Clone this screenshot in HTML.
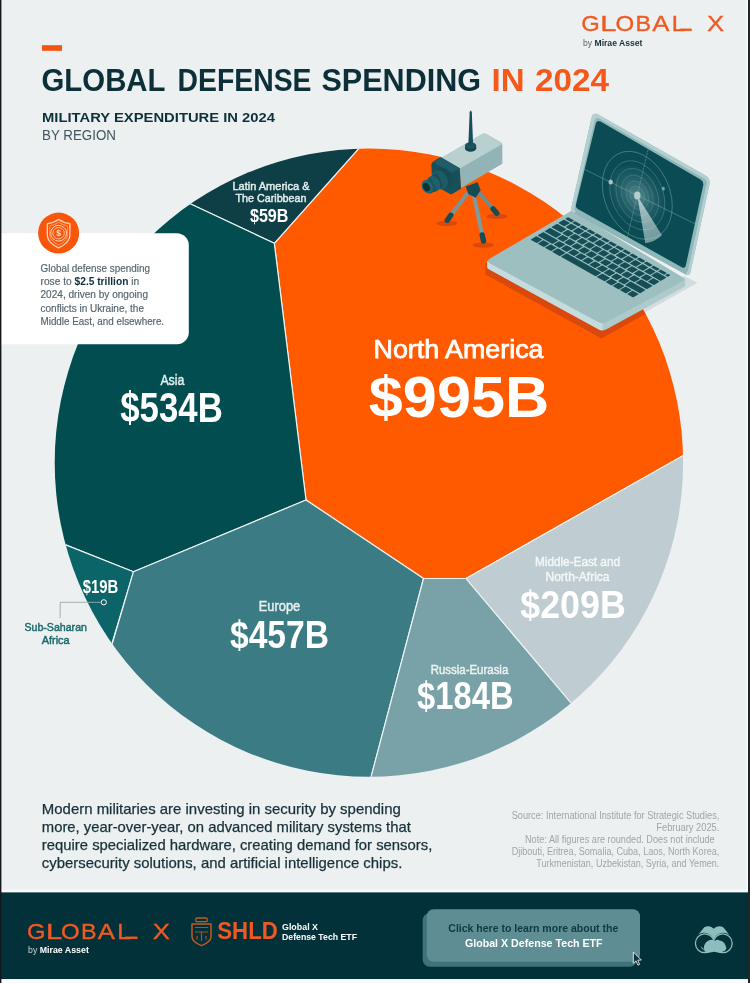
<!DOCTYPE html>
<html lang="en">
<head>
<meta charset="utf-8">
<title>Global Defense Spending in 2024</title>
<style>
html,body{margin:0;padding:0;background:#ecf0f1;}
body{width:750px;height:983px;overflow:hidden;font-family:"Liberation Sans",sans-serif;}
svg{display:block;position:absolute;left:0;top:0;}
text{font-family:"Liberation Sans",sans-serif;}
.b{font-weight:bold;}
.w{fill:#fff;}
</style>
</head>
<body>
<svg width="750" height="983" viewBox="0 0 750 983">
<defs>
<clipPath id="scr"><path d="M595.800,123.500 Q596.800,119.500 600.500,121.600 L700.500,179.500 Q704,181.500 703.200,185.500 L685.800,265.500 Q685,269 681.800,267.300 L577.800,209 Q575.200,207.500 576,204.500 Z"/></clipPath>
<clipPath id="pie"><circle cx="368.9" cy="462.6" r="314.2"/></clipPath>
</defs>
<!-- BACKGROUND -->
<rect x="0" y="0" width="750" height="983" fill="#ecf0f1"/>
<!-- HEADER -->
<g id="header">
<rect x="42" y="45.2" width="20" height="5.6" fill="#f5540f"/>
<g class="b" font-size="31" fill="#0c2f38" lengthAdjust="spacingAndGlyphs">
<text x="41.5" y="90.5" textLength="124" lengthAdjust="spacingAndGlyphs">GLOBAL</text>
<text x="177.5" y="90.5" textLength="134" lengthAdjust="spacingAndGlyphs">DEFENSE</text>
<text x="321.5" y="90.5" textLength="159.5" lengthAdjust="spacingAndGlyphs">SPENDING</text>
<text x="491.5" y="90.5" textLength="33" lengthAdjust="spacingAndGlyphs" fill="#f4581b">IN</text>
<text x="535" y="90.5" textLength="74" lengthAdjust="spacingAndGlyphs" fill="#f4581b">2024</text>
</g>
<text class="b" x="42" y="121.5" font-size="13.5" fill="#0d313a" textLength="233" lengthAdjust="spacingAndGlyphs">MILITARY EXPENDITURE IN 2024</text>
<text x="42" y="140" font-size="14" fill="#3f565d" textLength="74" lengthAdjust="spacingAndGlyphs">BY REGION</text>
</g>
<!-- LOGO TOP -->
<g id="logo-top" fill="#f05a22">
<g fill="#f05a22" stroke="#f05a22" stroke-width="0.35">
<text transform="translate(581.31,30.90) scale(1.061,1)" font-size="22.38">G</text>
<text transform="translate(600.32,30.90) scale(1.297,1)" font-size="22.38">L</text>
<text transform="translate(615.46,30.90) scale(1.073,1)" font-size="22.38">O</text>
<text transform="translate(635.39,30.90) scale(1.041,1)" font-size="22.38">B</text>
<text transform="translate(652.15,30.90) scale(1.152,1)" font-size="22.38">A</text>
<text transform="translate(671.63,30.90) scale(1.074,1)" font-size="22.38">L</text>
<text transform="translate(707.12,30.90) scale(1.146,1)" font-size="22.38">X</text>
<rect x="680.00" y="28.85" width="11.7" height="2.05"/>
</g>
<text x="583" y="45.5" font-size="8.6" fill="#56666d">by <tspan class="b" fill="#16323c">Mirae Asset</tspan></text>
</g>
<!-- PIE -->
<g id="pie-g" clip-path="url(#pie)" stroke="#eef3f3" stroke-width="1.15" stroke-linejoin="round">
<polygon fill="#ff5a00" points="366.3,140 274.3,243.3 306,500 423.5,578.5 466,578.5 700,446 700,140"/>
<polygon fill="#0e3f47" points="366.3,140 274.3,243.3 180,199 180,140"/>
<polygon fill="#014d50" points="190.7,204 274.3,243.3 306,500 133.4,571.8 65.6,544.9 40,540 40,204"/>
<polygon fill="#0b6467" points="60,542.6 133.4,571.8 110,650 50,650"/>
<polygon fill="#3b7b84" points="133.4,571.8 306,500 423.5,578.5 367.6,790 100,790 111,648"/>
<polygon fill="#79a2a8" points="423.5,578.5 466,578.5 577,710 577,790 367.6,790"/>
<polygon fill="#bfcdd2" points="466,578.5 700,446 700,720 577,710"/>
</g>
<!-- CAMERA -->
<g id="camera">
<ellipse cx="446.9" cy="223.3" rx="10.5" ry="2.6" fill="#d9480d"/>
<ellipse cx="483.2" cy="245.2" rx="10.5" ry="2.6" fill="#d9480d"/>
<ellipse cx="497" cy="216.4" rx="10.5" ry="2.6" fill="#d9480d"/>
<g stroke-linecap="round" fill="none">
<path d="M468.500,192 L449.500,217" stroke="#76969a" stroke-width="3.900"/>
<path d="M476.500,190 L494.500,210.500" stroke="#6c8d92" stroke-width="3.900"/>
<path d="M474,196 L482.700,237" stroke="#7d9ca0" stroke-width="3.900"/>
<path d="M450.800,215.300 L447.300,220.200" stroke="#164c56" stroke-width="5.400"/>
<path d="M493,208.800 L496.800,213.300" stroke="#164c56" stroke-width="5.400"/>
<path d="M482.200,235 L483.500,241" stroke="#164c56" stroke-width="5.400"/>
</g>
<g transform="translate(415,105) scale(0.133333)">
<polygon points="380,612 470,580 492,640 455,695 400,668" fill="#174c56"/>
<!-- body -->
<path d="M200,395 L505,218 Q520,210 535,218 L645,282 Q655,288 655,300 L655,440 L345,622 L335,475 Z" fill="#93b4b6"/>
<path d="M200,395 L505,218 Q520,210 535,218 L645,282 Q654,288 648,296 L340,474 Z" fill="#b9d0d0"/>
<!-- front dark block -->
<path d="M200,395 Q190,392 178,398 L135,425 Q122,434 123,450 L128,580 Q129,592 140,598 L262,668 Q272,672 282,666 L345,628 L335,475 Z" fill="#17505a"/>
<path d="M200,395 L335,475 L290,502 Q275,508 262,500 L150,436 Q140,428 150,420 Z" fill="#1f5e68"/>
<!-- lens -->
<path d="M150,470 L250,530 L250,650 L150,600 Z" fill="#17505a"/>
<ellipse cx="215" cy="545" rx="62" ry="80" transform="rotate(-28 215 545)" fill="#164b55"/>
<ellipse cx="185" cy="562" rx="58" ry="76" transform="rotate(-28 185 562)" fill="#1d5c66"/>
<path d="M105,545 L165,510 L215,610 L150,652 Z" fill="#194f59"/>
<ellipse cx="140" cy="590" rx="45" ry="60" transform="rotate(-28 140 590)" fill="#1f616b"/>
<path d="M62,580 L120,545 L165,640 L112,668 Z" fill="#1a5560"/>
<ellipse cx="92" cy="613" rx="40" ry="52" transform="rotate(-28 92 613)" fill="#21656f"/>
<ellipse cx="86" cy="616" rx="24" ry="33" transform="rotate(-28 86 616)" fill="#0c323a"/>
<!-- antenna -->
<ellipse cx="417" cy="326" rx="42" ry="25" fill="#14464f"/>
<rect x="375" y="305" width="84" height="21" fill="#14464f"/>
<ellipse cx="417" cy="305" rx="42" ry="25" fill="#1a545e"/>
<path d="M410,55 Q418,26 426,55 L436,300 Q418,312 400,300 Z" fill="#17505a"/>
</g>
</g>
<!-- LAPTOP -->
<g id="laptop">
<!-- shadows -->
<path d="M684,276 L697.500,282.800 L611,331.500 L603,329 Z" fill="#d3dbde"/>
<g clip-path="url(#pie)"><path d="M485.500,263 L485.500,274.500 L601.500,338.500 L698,284.500 L698,268 Z" fill="#d9480d"/></g>
<!-- base -->
<path d="M487.200,261 L487.200,266.800 Q487.200,268.300 489,269.300 L598.500,329.300 Q602.500,331.500 606.500,329.300 L683.500,287.300 Q685.300,286.300 685.300,284.800 L685.300,279.300 L602.500,321 Z" fill="#aecbcc"/>
<path d="M487.200,261 L487.200,266.800 Q487.200,268.300 489,269.300 L598.500,329.300 Q600.500,330.400 602.500,330.600 L602.500,321 Z" fill="#c6dbdb"/>
<path d="M490,258.500 L572,210.500 L683,277.500 Q686.300,279.300 683,281.100 L606.500,322.200 Q602.500,324.400 598.500,322.200 L490,263.500 Q486,261 490,258.500 Z" fill="#9dbfc0"/>
<g transform="matrix(103.5,58.5,-38.4,23,568,216.6)" fill="#164e57"><rect x="0.0048" y="0.0125" width="0.0593" height="0.0750" rx="0.005" ry="0.018"/><rect x="0.0738" y="0.0125" width="0.0593" height="0.0750" rx="0.005" ry="0.018"/><rect x="0.1428" y="0.0125" width="0.0593" height="0.0750" rx="0.005" ry="0.018"/><rect x="0.2117" y="0.0125" width="0.0593" height="0.0750" rx="0.005" ry="0.018"/><rect x="0.2807" y="0.0125" width="0.0593" height="0.0750" rx="0.005" ry="0.018"/><rect x="0.3497" y="0.0125" width="0.0593" height="0.0750" rx="0.005" ry="0.018"/><rect x="0.4186" y="0.0125" width="0.0593" height="0.0750" rx="0.005" ry="0.018"/><rect x="0.4876" y="0.0125" width="0.0593" height="0.0750" rx="0.005" ry="0.018"/><rect x="0.5566" y="0.0125" width="0.0593" height="0.0750" rx="0.005" ry="0.018"/><rect x="0.6255" y="0.0125" width="0.0593" height="0.0750" rx="0.005" ry="0.018"/><rect x="0.6945" y="0.0125" width="0.0593" height="0.0750" rx="0.005" ry="0.018"/><rect x="0.7634" y="0.0125" width="0.0593" height="0.0750" rx="0.005" ry="0.018"/><rect x="0.8324" y="0.0125" width="0.0593" height="0.0750" rx="0.005" ry="0.018"/><rect x="0.9014" y="0.0125" width="0.0593" height="0.0750" rx="0.005" ry="0.018"/><rect x="0.9703" y="0.0125" width="0.0248" height="0.0750" rx="0.005" ry="0.018"/><rect x="0.0048" y="0.1175" width="0.0593" height="0.1500" rx="0.005" ry="0.018"/><rect x="0.0738" y="0.1175" width="0.0593" height="0.1500" rx="0.005" ry="0.018"/><rect x="0.1428" y="0.1175" width="0.0593" height="0.1500" rx="0.005" ry="0.018"/><rect x="0.2117" y="0.1175" width="0.0593" height="0.1500" rx="0.005" ry="0.018"/><rect x="0.2807" y="0.1175" width="0.0593" height="0.1500" rx="0.005" ry="0.018"/><rect x="0.3497" y="0.1175" width="0.0593" height="0.1500" rx="0.005" ry="0.018"/><rect x="0.4186" y="0.1175" width="0.0593" height="0.1500" rx="0.005" ry="0.018"/><rect x="0.4876" y="0.1175" width="0.0593" height="0.1500" rx="0.005" ry="0.018"/><rect x="0.5566" y="0.1175" width="0.0593" height="0.1500" rx="0.005" ry="0.018"/><rect x="0.6255" y="0.1175" width="0.0593" height="0.1500" rx="0.005" ry="0.018"/><rect x="0.6945" y="0.1175" width="0.0593" height="0.1500" rx="0.005" ry="0.018"/><rect x="0.7634" y="0.1175" width="0.0593" height="0.1500" rx="0.005" ry="0.018"/><rect x="0.8324" y="0.1175" width="0.0593" height="0.1500" rx="0.005" ry="0.018"/><rect x="0.9014" y="0.1175" width="0.0938" height="0.1500" rx="0.005" ry="0.018"/><rect x="0.0048" y="0.2975" width="0.0938" height="0.1500" rx="0.005" ry="0.018"/><rect x="0.1083" y="0.2975" width="0.0593" height="0.1500" rx="0.005" ry="0.018"/><rect x="0.1772" y="0.2975" width="0.0593" height="0.1500" rx="0.005" ry="0.018"/><rect x="0.2462" y="0.2975" width="0.0593" height="0.1500" rx="0.005" ry="0.018"/><rect x="0.3152" y="0.2975" width="0.0593" height="0.1500" rx="0.005" ry="0.018"/><rect x="0.3841" y="0.2975" width="0.0593" height="0.1500" rx="0.005" ry="0.018"/><rect x="0.4531" y="0.2975" width="0.0593" height="0.1500" rx="0.005" ry="0.018"/><rect x="0.5221" y="0.2975" width="0.0593" height="0.1500" rx="0.005" ry="0.018"/><rect x="0.5910" y="0.2975" width="0.0593" height="0.1500" rx="0.005" ry="0.018"/><rect x="0.6600" y="0.2975" width="0.0593" height="0.1500" rx="0.005" ry="0.018"/><rect x="0.7290" y="0.2975" width="0.0593" height="0.1500" rx="0.005" ry="0.018"/><rect x="0.7979" y="0.2975" width="0.0593" height="0.1500" rx="0.005" ry="0.018"/><rect x="0.8669" y="0.2975" width="0.0593" height="0.1500" rx="0.005" ry="0.018"/><rect x="0.9359" y="0.2975" width="0.0593" height="0.1500" rx="0.005" ry="0.018"/><rect x="0.0048" y="0.4775" width="0.1110" height="0.1500" rx="0.005" ry="0.018"/><rect x="0.1255" y="0.4775" width="0.0593" height="0.1500" rx="0.005" ry="0.018"/><rect x="0.1945" y="0.4775" width="0.0593" height="0.1500" rx="0.005" ry="0.018"/><rect x="0.2634" y="0.4775" width="0.0593" height="0.1500" rx="0.005" ry="0.018"/><rect x="0.3324" y="0.4775" width="0.0593" height="0.1500" rx="0.005" ry="0.018"/><rect x="0.4014" y="0.4775" width="0.0593" height="0.1500" rx="0.005" ry="0.018"/><rect x="0.4703" y="0.4775" width="0.0593" height="0.1500" rx="0.005" ry="0.018"/><rect x="0.5393" y="0.4775" width="0.0593" height="0.1500" rx="0.005" ry="0.018"/><rect x="0.6083" y="0.4775" width="0.0593" height="0.1500" rx="0.005" ry="0.018"/><rect x="0.6772" y="0.4775" width="0.0593" height="0.1500" rx="0.005" ry="0.018"/><rect x="0.7462" y="0.4775" width="0.0593" height="0.1500" rx="0.005" ry="0.018"/><rect x="0.8152" y="0.4775" width="0.0593" height="0.1500" rx="0.005" ry="0.018"/><rect x="0.8841" y="0.4775" width="0.1110" height="0.1500" rx="0.005" ry="0.018"/><rect x="0.0048" y="0.6575" width="0.1455" height="0.1500" rx="0.005" ry="0.018"/><rect x="0.1600" y="0.6575" width="0.0593" height="0.1500" rx="0.005" ry="0.018"/><rect x="0.2290" y="0.6575" width="0.0593" height="0.1500" rx="0.005" ry="0.018"/><rect x="0.2979" y="0.6575" width="0.0593" height="0.1500" rx="0.005" ry="0.018"/><rect x="0.3669" y="0.6575" width="0.0593" height="0.1500" rx="0.005" ry="0.018"/><rect x="0.4359" y="0.6575" width="0.0593" height="0.1500" rx="0.005" ry="0.018"/><rect x="0.5048" y="0.6575" width="0.0593" height="0.1500" rx="0.005" ry="0.018"/><rect x="0.5738" y="0.6575" width="0.0593" height="0.1500" rx="0.005" ry="0.018"/><rect x="0.6428" y="0.6575" width="0.0593" height="0.1500" rx="0.005" ry="0.018"/><rect x="0.7117" y="0.6575" width="0.0593" height="0.1500" rx="0.005" ry="0.018"/><rect x="0.7807" y="0.6575" width="0.0593" height="0.1500" rx="0.005" ry="0.018"/><rect x="0.8497" y="0.6575" width="0.1455" height="0.1500" rx="0.005" ry="0.018"/><rect x="0.0048" y="0.8375" width="0.0593" height="0.1500" rx="0.005" ry="0.018"/><rect x="0.0738" y="0.8375" width="0.0593" height="0.1500" rx="0.005" ry="0.018"/><rect x="0.1428" y="0.8375" width="0.0593" height="0.1500" rx="0.005" ry="0.018"/><rect x="0.2117" y="0.8375" width="0.0766" height="0.1500" rx="0.005" ry="0.018"/><rect x="0.2979" y="0.8375" width="0.3352" height="0.1500" rx="0.005" ry="0.018"/><rect x="0.6428" y="0.8375" width="0.0766" height="0.1500" rx="0.005" ry="0.018"/><rect x="0.7290" y="0.8375" width="0.0593" height="0.1500" rx="0.005" ry="0.018"/><rect x="0.7979" y="0.8375" width="0.0593" height="0.1500" rx="0.005" ry="0.018"/><rect x="0.8669" y="0.8375" width="0.0593" height="0.1500" rx="0.005" ry="0.018"/><rect x="0.9359" y="0.8375" width="0.0593" height="0.1500" rx="0.005" ry="0.018"/></g>
<!-- lid -->
<path d="M591.500,118 Q593,111.500 599,115 L705.500,175.500 Q710.500,178.500 709.500,184 L690.500,272 Q689.500,276.500 685.500,274.500 L573.500,213 Q570.500,211 571.500,207 Z" fill="#8fb7ba"/>
<path d="M591.500,118 Q593,111.500 599,115 L705.500,175.500 Q710.500,178.500 709.500,184 L690.500,272 Q689.500,276.500 685.500,274.500 L688,270.500 L706.500,184.500 Q707.500,180.500 703.500,178.300 L600,119 Q595.500,116.500 594.500,121 L574.500,207.500 Q573.800,210.500 576,212 L573.500,213 Q570.500,211 571.500,207 Z" fill="#b3cfcf"/>
<path d="M595.800,123.500 Q596.800,119.500 600.500,121.600 L700.500,179.500 Q704,181.500 703.200,185.500 L685.800,265.500 Q685,269 681.800,267.300 L577.800,209 Q575.200,207.500 576,204.500 Z" fill="#0b4c54"/>
<!-- radar -->
<radialGradient id="glow" cx="0" cy="0" r="30" gradientUnits="userSpaceOnUse"><stop offset="0" stop-color="#bfe0e0" stop-opacity="0.42"/><stop offset="0.55" stop-color="#9fc8ca" stop-opacity="0.16"/><stop offset="1" stop-color="#9fc8ca" stop-opacity="0"/></radialGradient>
<linearGradient id="sweep" x1="637.3" y1="195.300" x2="655" y2="240" gradientUnits="userSpaceOnUse"><stop offset="0" stop-color="#d7e6e6" stop-opacity="0.75"/><stop offset="1" stop-color="#d7e6e6" stop-opacity="0.5"/></linearGradient>
<g transform="translate(637.3,195.300) skewY(17)">
<ellipse rx="30" ry="36.600" fill="url(#glow)"/>
<g fill="none" stroke="#8fbabc" stroke-width="0.6"><ellipse rx="7.3" ry="8.9" stroke-opacity="0.35"/><ellipse rx="11.3" ry="13.8" stroke-opacity="0.35"/><ellipse rx="16.0" ry="19.5" stroke-opacity="0.40"/><ellipse rx="21.3" ry="26.0" stroke-opacity="0.45"/><ellipse rx="27.5" ry="33.5" stroke-opacity="0.50"/><ellipse rx="35.0" ry="42.7" stroke-opacity="0.65"/></g>
</g>
<g fill="none" stroke="#8fbabc" stroke-width="0.55" clip-path="url(#scr)">
<path d="M578.5,166.400 L698,225.300" stroke-opacity="0.75"/>
<path d="M648.700,147 L626.500,241" stroke-opacity="0.75" stroke-dasharray="2.400 0.700"/>
</g>
<path d="M637.300,195.700 L645.300,243.300 Q655,242 662,235.300 Z" fill="url(#sweep)"/>
<ellipse cx="637.300" cy="195.500" rx="3.200" ry="4.100" fill="#b4cdcd"/>
<ellipse cx="610.700" cy="182" rx="2.200" ry="2.600" fill="#a8c3c3"/>
<ellipse cx="663.300" cy="188.700" rx="1.500" ry="1.900" fill="#6fa3a7"/>
</g>
<!-- PIE LABELS -->
<g id="labels" fill="#fff" text-anchor="middle" lengthAdjust="spacingAndGlyphs">
<text x="271" y="189.8" font-size="11.5" fill="#e4eeee" textLength="77" lengthAdjust="spacingAndGlyphs" stroke="#e4eeee" stroke-width="0.45">Latin America &amp;</text>
<text x="271" y="202" font-size="11.5" fill="#e4eeee" textLength="71" lengthAdjust="spacingAndGlyphs" stroke="#e4eeee" stroke-width="0.45">The Caribbean</text>
<text class="b" x="269.2" y="221.8" font-size="18.5" textLength="38.5" lengthAdjust="spacingAndGlyphs">$59B</text>
<text x="172.4" y="385" font-size="14" fill="#e4eeee" textLength="24" lengthAdjust="spacingAndGlyphs" stroke="#e4eeee" stroke-width="0.45">Asia</text>
<text class="b" x="171.5" y="422" font-size="42" textLength="102.5" lengthAdjust="spacingAndGlyphs">$534B</text>
<text x="458.5" y="358" font-size="26" textLength="170" lengthAdjust="spacingAndGlyphs" stroke="#ffffff" stroke-width="0.75">North America</text>
<text class="b" x="459" y="416.8" font-size="57" textLength="180.5" lengthAdjust="spacingAndGlyphs">$995B</text>
<text x="279.5" y="610.5" font-size="14" fill="#e8f0f0" textLength="41.5" lengthAdjust="spacingAndGlyphs" stroke="#e8f0f0" stroke-width="0.45">Europe</text>
<text class="b" x="279.5" y="647.8" font-size="38" textLength="99" lengthAdjust="spacingAndGlyphs">$457B</text>
<text x="469.5" y="674.2" font-size="13" fill="#eef3f3" textLength="77.5" lengthAdjust="spacingAndGlyphs" stroke="#eef3f3" stroke-width="0.45">Russia-Eurasia</text>
<text class="b" x="465.3" y="709.1" font-size="38" textLength="96.500" lengthAdjust="spacingAndGlyphs">$184B</text>
<text x="577.5" y="565.6" font-size="13" fill="#f4f7f7" textLength="85" lengthAdjust="spacingAndGlyphs" stroke="#f4f7f7" stroke-width="0.45">Middle-East and</text>
<text x="577.5" y="581" font-size="13" fill="#f4f7f7" textLength="64" lengthAdjust="spacingAndGlyphs" stroke="#f4f7f7" stroke-width="0.45">North-Africa</text>
<text class="b" x="573" y="618.4" font-size="39" textLength="105.500" lengthAdjust="spacingAndGlyphs">$209B</text>
<text class="b" x="100.5" y="592.6" font-size="17.5" textLength="35.5" lengthAdjust="spacingAndGlyphs">$19B</text>
<text x="55.7" y="631" font-size="11" fill="#1b6a6c" textLength="62.5" lengthAdjust="spacingAndGlyphs" stroke="#1b6a6c" stroke-width="0.45">Sub-Saharan</text>
<text x="55.7" y="644" font-size="11" fill="#1b6a6c" textLength="28" lengthAdjust="spacingAndGlyphs" stroke="#1b6a6c" stroke-width="0.45">Africa</text>
</g>
<path d="M100.8,602.3 H60.2 V618" fill="none" stroke="#9aa9ac" stroke-width="0.9"/>
<circle cx="103.8" cy="602.3" r="2.6" fill="#0b6467" stroke="#fff" stroke-width="1"/>
<!-- CALLOUT -->
<g id="callout">
<path d="M0,233.3 H176.8 a12,12 0 0 1 12,12 V332.200 a12,12 0 0 1 -12,12 H0 Z" fill="#ffffff"/>
<circle cx="58.6" cy="233.1" r="20.5" fill="#f9560a"/>
<g fill="none" stroke="#ffd3ba" stroke-width="1.15" stroke-linejoin="round">
<path d="M58.6,219.300 Q54,222.900 47.300,223.700 V236 Q48.500,243.500 58.6,247.800 Q68.700,243.500 69.900,236 V223.700 Q63.200,222.900 58.600,219.300 Z" stroke-width="1.3"/>
<path d="M58.6,222.300 Q54.600,225 49.800,225.800 V235.800 Q50.800,241.500 58.6,245 Q66.400,241.500 67.400,235.800 V225.800 Q62.600,225 58.600,222.300 Z" stroke-width="0.7" stroke-opacity="0.75"/>
<circle cx="58.6" cy="233.200" r="7.9" stroke-width="1"/>
<circle cx="58.6" cy="233.200" r="5.7" stroke-width="0.8"/>
</g>
<text class="b" x="58.6" y="236.300" font-size="8.6" text-anchor="middle" fill="#ffd9c4">$</text>
<g font-size="10.6" fill="#55666e" stroke="#55666e" stroke-width="0.18">
<text x="40.5" y="272" textLength="109.5" lengthAdjust="spacingAndGlyphs">Global defense spending</text>
<text x="40.5" y="285.2" textLength="98.7" lengthAdjust="spacingAndGlyphs">rose to <tspan class="b" fill="#10303a" stroke="none">$2.5 trillion</tspan> in</text>
<text x="40.5" y="298.4" textLength="107.5" lengthAdjust="spacingAndGlyphs">2024, driven by ongoing</text>
<text x="40.5" y="311.6" textLength="103.5" lengthAdjust="spacingAndGlyphs">conflicts in Ukraine, the</text>
<text x="40.5" y="325" textLength="123.600" lengthAdjust="spacingAndGlyphs">Middle East, and elsewhere.</text>
</g>
</g>
<!-- BOTTOM TEXT -->
<g id="para" font-size="15" fill="#17313b" stroke="#17313b" stroke-width="0.25">
<text x="41.8" y="814.2" textLength="359" lengthAdjust="spacingAndGlyphs">Modern militaries are investing in security by spending</text>
<text x="41.8" y="832.1" textLength="369" lengthAdjust="spacingAndGlyphs">more, year-over-year, on advanced military systems that</text>
<text x="41.8" y="850" textLength="390.5" lengthAdjust="spacingAndGlyphs">require specialized hardware, creating demand for sensors,</text>
<text x="41.8" y="867.9" textLength="360.5" lengthAdjust="spacingAndGlyphs">cybersecurity solutions, and artificial intelligence chips.</text>
</g>
<g id="source" font-size="10" fill="#9da6aa" text-anchor="end">
<text x="719.3" y="819" textLength="207.6" lengthAdjust="spacingAndGlyphs">Source: International Institute for Strategic Studies,</text>
<text x="719.3" y="830.8" textLength="63" lengthAdjust="spacingAndGlyphs">February 2025.</text>
<text x="714.7" y="842.8" textLength="189.7" lengthAdjust="spacingAndGlyphs">Note: All figures are rounded. Does not include</text>
<text x="719.3" y="854.7" textLength="207.6" lengthAdjust="spacingAndGlyphs">Djibouti, Eritrea, Somalia, Cuba, Laos, North Korea,</text>
<text x="719.3" y="866.6" textLength="183" lengthAdjust="spacingAndGlyphs">Turkmenistan, Uzbekistan, Syria, and Yemen.</text>
</g>
<!-- FOOTER -->
<g id="footer">
<rect x="0" y="889.5" width="750" height="3" fill="#f6f9f9"/>
<rect x="0" y="892.4" width="750" height="86.8" fill="#03313a"/>
<rect x="0" y="979.2" width="750" height="4" fill="#fafcfc"/>
<g fill="#f05a22" stroke="#f05a22" stroke-width="0.35">
<text transform="translate(26.91,938.90) scale(1.061,1)" font-size="22.38">G</text>
<text transform="translate(45.92,938.90) scale(1.297,1)" font-size="22.38">L</text>
<text transform="translate(61.06,938.90) scale(1.073,1)" font-size="22.38">O</text>
<text transform="translate(80.99,938.90) scale(1.041,1)" font-size="22.38">B</text>
<text transform="translate(97.75,938.90) scale(1.152,1)" font-size="22.38">A</text>
<text transform="translate(117.23,938.90) scale(1.074,1)" font-size="22.38">L</text>
<text transform="translate(152.72,938.90) scale(1.146,1)" font-size="22.38">X</text>
<rect x="125.60" y="936.85" width="11.7" height="2.05"/>
</g>
<text x="28" y="953" font-size="8.8" fill="#c9d3d6">by <tspan class="b" fill="#ffffff">Mirae Asset</tspan></text>
<g id="shld-icon" fill="none" stroke="#c45a1f" stroke-width="1.5" stroke-linejoin="round">
<path d="M192,924 H211 V937 Q210.500,942.300 201.500,945.600 Q192.500,942.300 192,937 Z"/>
<rect x="195.800" y="918" width="11.400" height="3.600" rx="1.200" stroke-width="1.300"/>
<path d="M195,927.500 H208 M195,932 H208 M201.500,932 V941 M197,936 V939.500 M206,936 V939.500" stroke-width="1.200" stroke="#a9501f"/>
</g>
<text class="b" x="217.3" y="939.2" font-size="24.5" fill="#f05a22" textLength="60.5" lengthAdjust="spacingAndGlyphs">SHLD</text>
<text class="b" x="282" y="929.5" font-size="9.8" fill="#ffffff" textLength="36" lengthAdjust="spacingAndGlyphs">Global X</text>
<text class="b" x="282" y="940" font-size="9.8" fill="#ffffff" textLength="75" lengthAdjust="spacingAndGlyphs">Defense Tech ETF</text>
<rect x="422.7" y="913.3" width="214" height="53.4" rx="7" fill="#3f727b"/>
<rect x="426.7" y="909.3" width="213.3" height="52.4" rx="7" fill="#5f8d94"/>
<text class="b" x="533.3" y="932.3" font-size="10.4" fill="#0e3a44" text-anchor="middle" textLength="170" lengthAdjust="spacingAndGlyphs">Click here to learn more about the</text>
<text class="b" x="533.8" y="946.7" font-size="10.4" fill="#ffffff" text-anchor="middle" textLength="137.7" lengthAdjust="spacingAndGlyphs">Global X Defense Tech ETF</text>
</g>
<!-- cursor -->
<path d="M633.300,952 L633.300,963.300 L636,960.900 L637.900,965.200 L639.600,964.400 L637.800,960.200 L641.300,960 Z" fill="#12343d" stroke="#e8eef0" stroke-width="0.9" stroke-linejoin="round"/>
<!-- binoculars -->
<g id="bino">
<path d="M704,927.500 Q707.500,925.300 711.500,927 L713.700,928.700 L716,927 Q720,925.300 723.500,927.500 L731,937 Q727,931.500 720.500,933.300 Q715.500,935 713.700,939.500 Q712,935 707,933.300 Q700.500,931.500 696.500,937 Z" fill="#8fbcbc"/>
<circle cx="704.800" cy="943.300" r="9.400" fill="none" stroke="#8fbcbc" stroke-width="1.300"/>
<circle cx="722.800" cy="943.300" r="9.400" fill="none" stroke="#8fbcbc" stroke-width="1.300"/>
<path d="M704.500,951.500 Q702.500,945 707,941.500 Q711,938.500 715,941 Q717,938.600 719.500,940.500 Q724,941 725.500,945.500 Q727.500,948.500 724.500,951 Q720,953.500 714,951.800 Q709,953.500 704.500,951.500 Z" fill="#8fbcbc"/>
<path d="M700,946 L703.500,948.500 L703.500,950.500 Z" fill="#8fbcbc"/>
</g>
<!-- SIDE BORDERS -->
<rect x="0" y="0" width="1.4" height="983" fill="#14181a"/>
<rect x="746.3" y="0" width="1.7" height="892" fill="#f7fafa"/>
<rect x="748" y="0" width="2" height="983" fill="#222628"/>
</svg>
</body>
</html>
